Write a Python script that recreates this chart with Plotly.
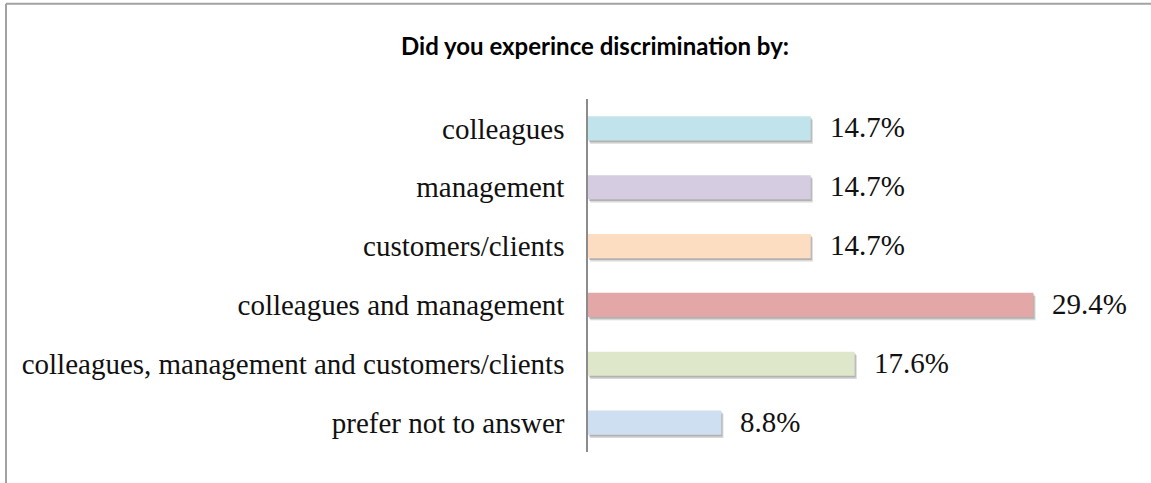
import plotly.graph_objects as go

# Survey answers, listed top to bottom
categories = [
    "colleagues",
    "management",
    "customers/clients",
    "colleagues and management",
    "colleagues, management and customers/clients",
    "prefer not to answer",
]
shares = [14.7, 14.7, 14.7, 29.4, 17.6, 8.8]
bar_colors = ["#C1E3EB", "#D6CCE1", "#FCDDC1", "#E3A7A7", "#DFE7CA", "#CEDFF1"]

W, H = 1151, 483
M_L, M_R, M_T, M_B = 588, 60, 99, 31
X_MAX = 33.2

LABEL_FONT = dict(family="Liberation Serif, Times New Roman, serif", size=29, color="#111111")

fig = go.Figure()

# soft drop shadow under each bar (same lengths, shifted slightly right/down)
fig.add_trace(go.Bar(
    y=categories, x=shares, orientation="h",
    base=0.14, width=0.41, offset=-0.205 + 0.055,
    marker=dict(color="rgba(80,80,80,0.22)", line=dict(width=0)),
    hoverinfo="skip", showlegend=False,
))
fig.add_trace(go.Bar(
    y=categories, x=shares, orientation="h",
    base=0.07, width=0.41, offset=-0.205 + 0.03,
    marker=dict(color="rgba(80,80,80,0.28)", line=dict(width=0)),
    hoverinfo="skip", showlegend=False,
))
# main bars
fig.add_trace(go.Bar(
    y=categories, x=shares, orientation="h",
    width=0.41, offset=-0.205,
    marker=dict(color=bar_colors, line=dict(width=0)),
    showlegend=False,
))

# value labels to the right of each bar
for cat, v in zip(categories, shares):
    fig.add_annotation(
        x=v, y=cat, xref="x", yref="y",
        text=f"{v:.1f}%", showarrow=False,
        xanchor="left", yanchor="middle", xshift=17, yshift=1,
        font=LABEL_FONT,
    )

plot_w = W - M_L - M_R
plot_h = H - M_T - M_B


def px_x(px):
    return (px - M_L) / plot_w


def px_y(py):
    return (H - M_B - py) / plot_h


# outer chart frame (left and top edges visible)
frame = dict(color="#A2A2A2", width=2)
fig.add_shape(type="line", xref="paper", yref="paper",
              x0=px_x(6), x1=px_x(W + 20), y0=px_y(3.7), y1=px_y(3.7), line=frame)
fig.add_shape(type="line", xref="paper", yref="paper",
              x0=px_x(6), x1=px_x(6), y0=px_y(3.7), y1=px_y(H + 20), line=frame)

fig.update_layout(
    width=W, height=H,
    margin=dict(l=M_L, r=M_R, t=M_T, b=M_B, autoexpand=False),
    paper_bgcolor="white", plot_bgcolor="white",
    barmode="overlay",
    title=dict(
        text="<b>Did you experince discrimination by:</b>",
        xref="container", yref="container",
        x=595 / W, y=1 - 47 / H, xanchor="center", yanchor="middle",
        font=dict(family="Lato, Open Sans, sans-serif", size=24, color="#000000"),
    ),
    xaxis=dict(range=[0, X_MAX], visible=False, fixedrange=True),
    yaxis=dict(
        categoryorder="array", categoryarray=categories, autorange="reversed",
        showline=True, linecolor="#8C8C8C", linewidth=1.5,
        showgrid=False, zeroline=False, ticks="",
        ticklabelstandoff=16, tickfont=LABEL_FONT,
    ),
    bargap=0.59,
)

fig.write_html("out.html")
